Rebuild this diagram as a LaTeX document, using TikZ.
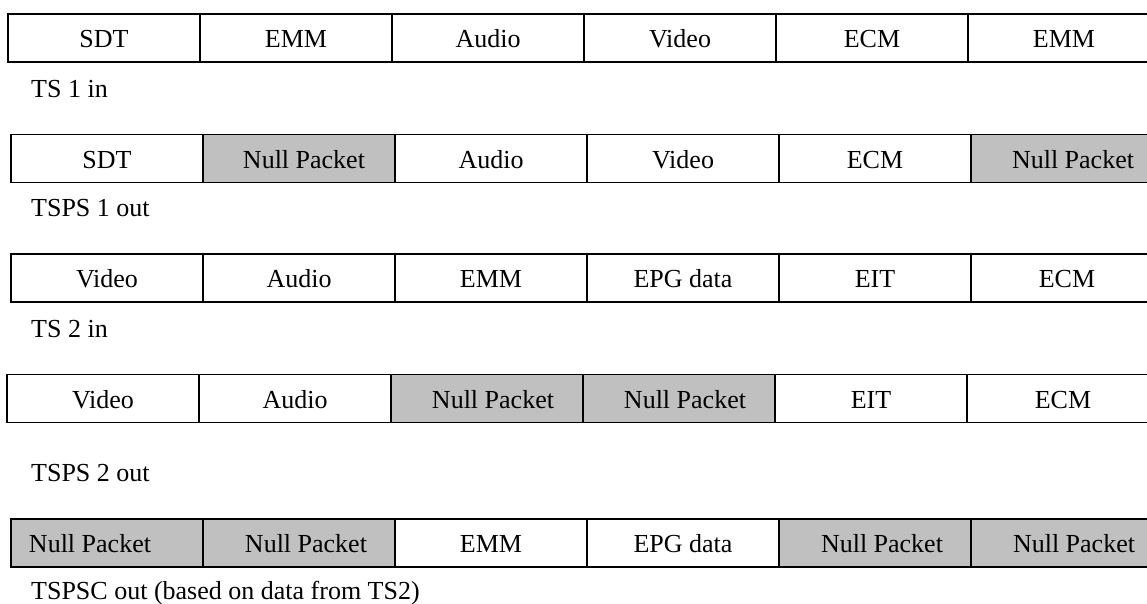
\documentclass[tikz,border=0pt]{standalone}
\usepackage{fontspec}
\setmainfont{Liberation Serif}
\definecolor{nullgray}{HTML}{C0C0C0}
\tikzset{
  cell/.style={draw, line width=1.7pt, minimum width=192pt, minimum height=48pt,
    inner sep=0pt, outer sep=0pt, text height=19pt, text depth=0pt,
    font=\fontsize{26}{30}\selectfont, anchor=west},
  nul/.style={cell, fill=nullgray},
  lbl/.style={anchor=base west, inner sep=0pt, font=\fontsize{26}{30}\selectfont}
}
\begin{document}
\begin{tikzpicture}[x=1pt,y=-1pt]
\useasboundingbox (0,0) rectangle (1147,603);
% Row 1: TS 1 in
\node[cell] (a1) at (8,38) {SDT};
\node[cell] (a2) at (200,38) {EMM};
\node[cell] (a3) at (392,38) {Audio};
\node[cell] (a4) at (584,38) {Video};
\node[cell] (a5) at (776,38) {ECM};
\node[cell] (a6) at (968,38) {EMM};
\node[lbl] (la) at (31,97) {TS 1 in};
% Row 2: TSPS 1 out
\node[cell] (b1) at (11,158.5) {SDT};
\node[nul]  (b2) at (203,158.5) {\hspace*{10pt}Null Packet};
\node[cell] (b3) at (395,158.5) {Audio};
\node[cell] (b4) at (587,158.5) {Video};
\node[cell] (b5) at (779,158.5) {ECM};
\node[nul]  (b6) at (971,158.5) {\hspace*{12pt}Null Packet};
\node[lbl] (lb) at (31,216) {TSPS 1 out};
% Row 3: TS 2 in
\node[cell] (c1) at (11,278) {Video};
\node[cell] (c2) at (203,278) {Audio};
\node[cell] (c3) at (395,278) {EMM};
\node[cell] (c4) at (587,278) {EPG data};
\node[cell] (c5) at (779,278) {EIT};
\node[cell] (c6) at (971,278) {ECM};
\node[lbl] (lc) at (31,337) {TS 2 in};
% Row 4: TSPS 2 out
\node[cell] (d1) at (7,398.5) {Video};
\node[cell] (d2) at (199,398.5) {Audio};
\node[nul]  (d3) at (391,398.5) {\hspace*{12pt}Null Packet};
\node[nul]  (d4) at (583,398.5) {\hspace*{12pt}Null Packet};
\node[cell] (d5) at (775,398.5) {EIT};
\node[cell] (d6) at (967,398.5) {ECM};
\node[lbl] (ld) at (31,481) {TSPS 2 out};
% Row 5: TSPSC out
\node[nul]  (e1) at (11,543) {Null Packet\hspace*{34pt}};
\node[nul]  (e2) at (203,543) {\hspace*{14pt}Null Packet};
\node[cell] (e3) at (395,543) {EMM};
\node[cell] (e4) at (587,543) {EPG data};
\node[nul]  (e5) at (779,543) {\hspace*{14pt}Null Packet};
\node[nul]  (e6) at (971,543) {\hspace*{14pt}Null Packet};
\node[lbl] (le) at (31,599) {TSPSC out (based on data from TS2)};
\end{tikzpicture}
\end{document}
